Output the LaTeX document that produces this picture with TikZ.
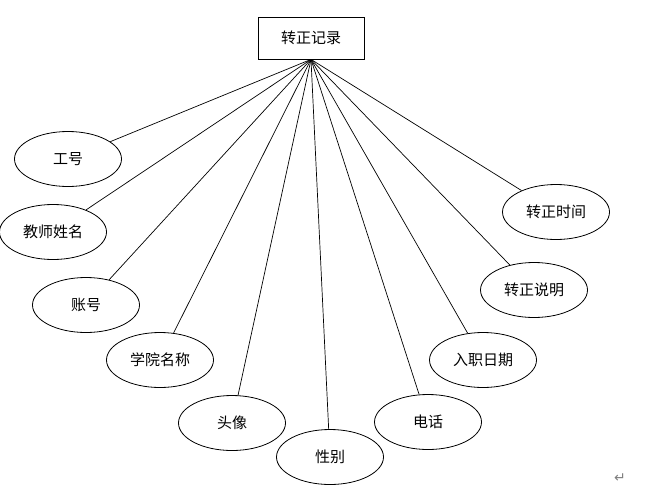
\documentclass[tikz,border=0pt]{standalone}
\usepackage{fontspec}
\newfontfamily\cjk{Noto Sans CJK SC}
\newfontfamily\symfont{DejaVu Sans}
\usetikzlibrary{shapes.geometric}
\begin{document}
\begin{tikzpicture}[x=1pt,y=-1pt,
  entity/.style={draw,line width=0.8pt,minimum width=106pt,minimum height=42pt,inner sep=0pt,font=\cjk\fontsize{15}{17}\selectfont},
  attr/.style={draw,ellipse,line width=0.8pt,minimum width=107pt,minimum height=55pt,inner sep=0pt,font=\cjk\fontsize{15}{17}\selectfont},
  link/.style={line width=0.7pt}]
 \useasboundingbox (0,0) rectangle (655,496);
 \node[entity] (rec) at (311,38) {转正记录};
 % attributes
 \node[attr] (gh) at (68,159) {工号};
 \node[attr] (xm) at (53,232) {教师姓名};
 \node[attr] (zh) at (86,305) {账号};
 \node[attr] (xy) at (160,360) {学院名称};
 \node[attr] (tx) at (232,423) {头像};
 \node[attr] (xb) at (330,457) {性别};
 \node[attr] (dh) at (428,422) {电话};
 \node[attr] (rz) at (483,360) {入职日期};
 \node[attr] (sm) at (534,290) {转正说明};
 \node[attr] (sj) at (556,212) {转正时间};
 \foreach \a in {gh,xm,zh,xy,tx,xb,dh,rz,sm,sj}
  \draw[link] (rec.south) -- (\a);
 \node[text=gray,font=\symfont\fontsize{14}{16}\selectfont] (ret) at (620,478) {↵};
\end{tikzpicture}
\end{document}
